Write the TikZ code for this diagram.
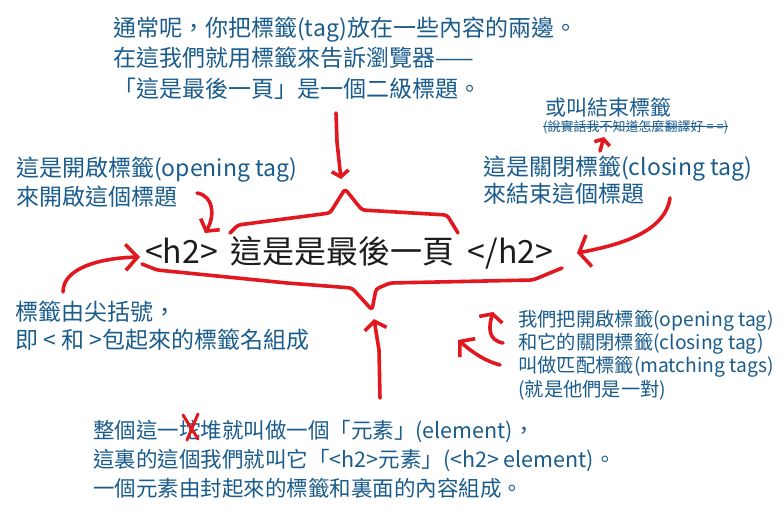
\documentclass[tikz,border=0pt]{standalone}
\usepackage{fontspec}
\usepackage{tikz}
\usetikzlibrary{arrows.meta}
\newfontfamily\cjk{Noto Sans CJK TC}
\definecolor{inkblue}{RGB}{26,92,140}
\definecolor{inkred}{RGB}{226,24,32}
\definecolor{inkblack}{RGB}{28,28,28}
\tikzset{
  note/.style={inkblue, anchor=west, align=left, inner sep=0pt},
  stroke/.style={draw=inkred, line width=3.6pt, line cap=round, line join=round},
  redarrow/.style={stroke, -{Straight Barb[length=8pt,width=22pt]}}
}

\begin{document}
\begin{tikzpicture}[x=1pt,y=-1pt]
\fill[white] (0,0) rectangle (784,518);
\useasboundingbox (0,0) rectangle (784,518);

% the heading with its two tags
\node[inkblack, anchor=west, inner sep=0pt, font=\cjk\fontsize{32}{38}\selectfont] (title) at (145,253)
  {<h2>\hspace{13pt}這是是最後一頁\hspace{13pt}</h2>};

% notes
\node[note, font=\cjk\fontsize{23}{30.5}\selectfont] (usual) at (113,58)
  {通常呢，你把標籤(tag)放在一些內容的兩邊。\\在這我們就用標籤來告訴瀏覽器——\\「這是最後一頁」是一個二級標題。};
\node[note, font=\cjk\fontsize{23}{29}\selectfont] (opening) at (16,182)
  {這是開啟標籤(opening tag)\\來開啟這個標題};
\node[note, font=\cjk\fontsize{23}{25}\selectfont] (closing) at (483,180)
  {這是關閉標籤(closing tag)\\來結束這個標題};
\node[note, font=\cjk\fontsize{21}{25}\selectfont] (orname) at (545,107) {或叫結束標籤};
\node[note, font=\cjk\fontsize{13}{16}\selectfont] (aside) at (543,127) {(說實話我不知道怎麼翻譯好 = =)};
\node[note, font=\cjk\fontsize{23}{28}\selectfont] (brackets) at (15,326)
  {標籤由尖括號，\\即 < 和 >包起來的標籤名組成};
\node[note, font=\cjk\fontsize{19.3}{23.3}\selectfont] (matching) at (518,355)
  {我們把開啟標籤(opening tag)\\和它的關閉標籤(closing tag)\\叫做匹配標籤(matching tags)\\(就是他們是一對)};
\node[note, font=\cjk\fontsize{21.5}{29}\selectfont] (element) at (93,459)
  {整個這一坨堆就叫做一個「元素」(element)，\\這裏的這個我們就叫它「<h2>元素」(<h2> element)。\\一個元素由封起來的標籤和裏面的內容組成。};

\draw[inkblue, line width=1pt] (aside.west) -- (aside.east);

% braces round the element
\draw[stroke, rounded corners=3pt] (230,233) -- (238,225) -- (330,213) -- (345,189)
  -- (362,210) -- (447,215) -- (458,233);
\draw[stroke, rounded corners=3pt] (142,264) -- (157,270) -- (287,283) -- (352,288)
  -- (372,310) -- (376,289) -- (390,283) -- (533,280) -- (562,268);

% arrows
\draw[redarrow, -{Straight Barb[length=6pt,width=17pt]}] (336,113) -- (337,142) -- (341,179);
\draw[redarrow] (380,398) -- (379,350) -- (374,319);
\draw[redarrow] (197,193) .. controls (214,196) and (215,216) .. (205,233);
\draw[redarrow, -{Straight Barb[length=12pt,width=26pt]}] (63,292) .. controls (63,268) and (100,258) .. (140,257);
\draw[redarrow, -{Straight Barb[length=10pt,width=32pt]}] (670,198) .. controls (665,232) and (620,245) .. (577,253);
\draw[redarrow, -{Straight Barb[length=5pt,width=16pt]}] (600,151) -- (604,137);
\draw[redarrow, -{Straight Barb[length=6pt,width=24pt]}] (503,343) .. controls (487,340) and (489,326) .. (493,312);
\draw[redarrow, -{Straight Barb[length=10pt,width=24pt]}] (500,365) .. controls (482,360) and (470,350) .. (458,340);

% crossed out
\draw[stroke, line width=3pt] (183,415) -- (198,439) (198,414) -- (187,440);
\end{tikzpicture}
\end{document}
